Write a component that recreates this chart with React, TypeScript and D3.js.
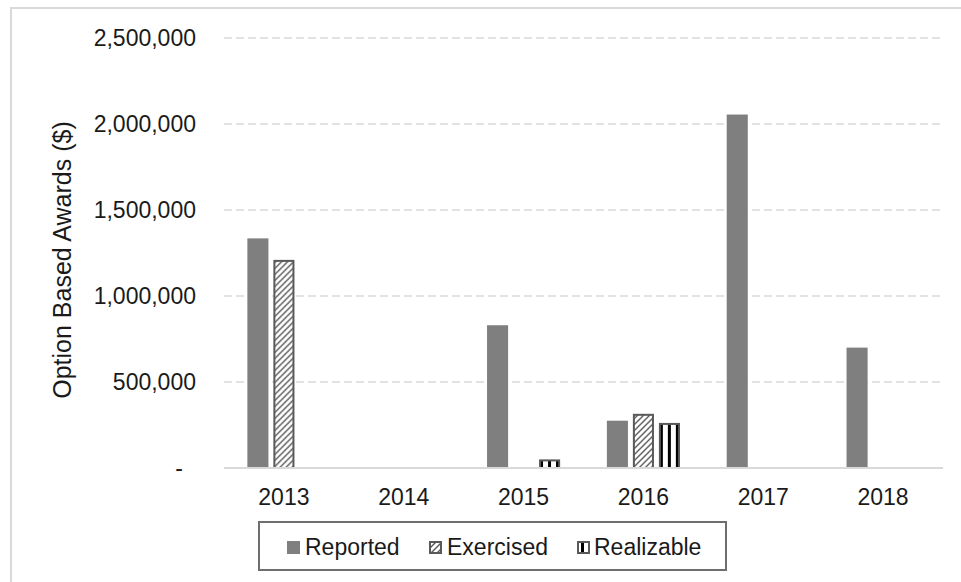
import React from 'react';
import * as d3 from 'd3';

// chart data
const years = ['2013', '2014', '2015', '2016', '2017', '2018'];
const seriesNames = ['Reported', 'Exercised', 'Realizable'];
const reported = [1335000, 0, 830000, 275000, 2055000, 700000];
const exercised = [1210000, 0, 0, 315000, 0, 0];
const realizable = [0, 0, 50000, 262000, 0, 0];
const yTicks = [0, 500000, 1000000, 1500000, 2000000, 2500000];

const W = 961;
const H = 582;
const margin = { top: 38, right: 18, bottom: 114, left: 224 };
const FONT = '"Liberation Sans", Arial, sans-serif';

const seriesValues = [reported, exercised, realizable];

export default function App() {
  const width = W - margin.left - margin.right;
  const height = H - margin.top - margin.bottom;

  const x0 = d3.scaleBand().domain(years).range([0, width]).paddingInner(0.39).paddingOuter(0.195);
  const x1 = d3.scaleBand().domain(seriesNames).range([0, x0.bandwidth()]).paddingInner(0.19);
  const y = d3.scaleLinear().domain([0, 2500000]).range([height, 0]);

  const fmt = d3.format(',');
  const fill = (s: string) =>
    s === 'Reported' ? '#7f7f7f' : s === 'Exercised' ? 'url(#hatch)' : 'url(#vstripe)';

  // legend layout
  const legendItems = [
    { name: 'Reported', mx: 287, tx: 305 },
    { name: 'Exercised', mx: 429, tx: 447 },
    { name: 'Realizable', mx: 577, tx: 594 },
  ];

  return (
    <svg width={W} height={H} style={{ position: 'absolute', left: 0, top: 0, background: '#fff' }}>
      <defs>
        <pattern id="hatch" patternUnits="userSpaceOnUse" width="6" height="6">
          <rect width="6" height="6" fill="#fff" />
          <path d="M-1,1 l2,-2 M0,6 l6,-6 M5,7 l2,-2" stroke="#595959" strokeWidth="1.4" />
        </pattern>
        <pattern id="vstripe" patternUnits="userSpaceOnUse" width="8" height="8" x="2">
          <rect width="8" height="8" fill="#fff" />
          <rect x="3" width="3" height="8" fill="#000" />
        </pattern>
      </defs>

      {/* chart area border */}
      <rect x={11} y={8} width={1000} height={700} fill="none" stroke="#d9d9d9" strokeWidth={2} />

      <g transform={`translate(${margin.left},${margin.top})`}>
        {/* grid lines */}
        {yTicks.filter(t => t > 0).map(t => (
          <line key={t} x1={0} x2={width} y1={y(t)} y2={y(t)}
            stroke="#d9d9d9" strokeWidth={1.3} strokeDasharray="8,4" />
        ))}

        {/* y tick labels */}
        {yTicks.map(t => (
          <text key={t} x={t === 0 ? -41 : -28} y={y(t)} dy="0.35em" textAnchor="end"
            fontFamily={FONT} fontSize={23} fill="#1a1a1a">
            {t === 0 ? '-' : fmt(t)}
          </text>
        ))}

        {/* bars */}
        {years.map((yr, i) => (
          <g key={yr} transform={`translate(${x0(yr)},0)`}>
            {seriesNames.map((s, j) => {
              const v = seriesValues[j][i];
              if (!v) return null;
              const patterned = s !== 'Reported';
              return (
                <rect key={s}
                  x={x1(s)! + (patterned ? 1 : 0)}
                  y={y(v) + (patterned ? 1 : 0)}
                  width={x1.bandwidth() - (patterned ? 2 : 0)}
                  height={height - y(v) - (patterned ? 1 : 0)}
                  fill={fill(s)}
                  stroke={patterned ? '#595959' : 'none'}
                  strokeWidth={patterned ? 2 : 0} />
              );
            })}
          </g>
        ))}

        {/* baseline */}
        <line x1={0} x2={width} y1={height} y2={height} stroke="#d9d9d9" strokeWidth={2} />

        {/* x tick labels */}
        {years.map(yr => (
          <text key={yr} x={x0(yr)! + x0.bandwidth() / 2} y={height + 37} textAnchor="middle"
            fontFamily={FONT} fontSize={23} fill="#1a1a1a">
            {yr}
          </text>
        ))}

        {/* y axis title */}
        <text transform={`translate(${62 - margin.left},${height / 2 + 7}) rotate(-90)`}
          dy="0.35em" textAnchor="middle" fontFamily={FONT} fontSize={25} fill="#1a1a1a">
          Option Based Awards ($)
        </text>
      </g>

      {/* legend */}
      <rect x={259} y={522} width={467} height={48} fill="#fff" stroke="#6e6e6e" strokeWidth={2} />
      {legendItems.map(it => (
        <g key={it.name}>
          <rect x={it.mx + (it.name === 'Reported' ? 0 : 1)} y={541 + (it.name === 'Reported' ? 0 : 1)}
            width={it.name === 'Reported' ? 13 : 11} height={it.name === 'Reported' ? 13 : 11}
            fill={fill(it.name)} stroke={it.name === 'Reported' ? 'none' : '#595959'}
            strokeWidth={it.name === 'Reported' ? 0 : 2} />
          <text x={it.tx} y={555} fontFamily={FONT} fontSize={23} fill="#1a1a1a">{it.name}</text>
        </g>
      ))}
    </svg>
  );
}
